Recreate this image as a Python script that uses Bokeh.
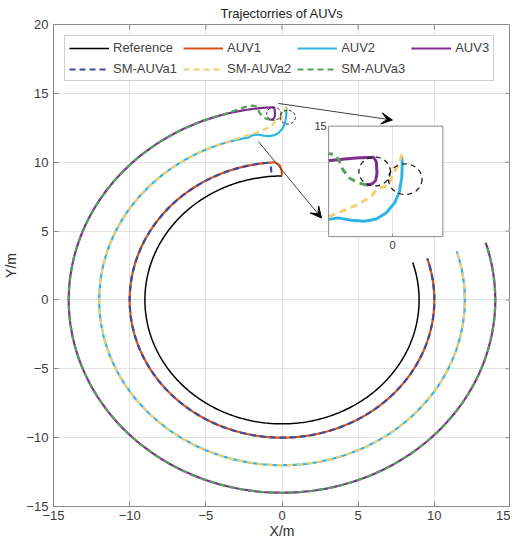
import numpy as np
from bokeh.plotting import figure
from bokeh.models import Range1d, Legend, LegendItem, Arrow, VeeHead, FixedTicker
from bokeh.core.properties import value
from bokeh.embed import file_html
from bokeh.resources import INLINE

FONT = "Liberation Sans"

# ---------------- data ----------------
x_ticks = [-15, -10, -5, 0, 5, 10, 15]
y_ticks = [-15, -10, -5, 0, 5, 10, 15, 20]
x_lim = [-15, 15]
y_lim = [-15, 20]

ref_radius = 9.0
ref_arc_deg = [90.0, 377.6]

# AUV actual trajectories: start transients, then circular arc
auv_radius = [10.0, 12.0, 14.0]
auv_arc_start_deg = [92.6, 100.5, 92.3]
auv_arc_end_deg = [377.5, 377.1, 377.3]
auv1_x = [0.00, -0.03, -0.15, -0.45]
auv1_y = [9.05, 9.40, 9.78, 9.97]
auv2_x = [0.28, 0.29, 0.28, 0.21, 0.06, -0.19, -0.48, -0.83, -1.22, -1.62, -1.96]
auv2_y = [14.00, 13.79, 13.36, 12.87, 12.49, 12.17, 11.97, 11.90, 11.93, 12.01, 11.95]
auv3_x = [-0.78, -0.60, -0.50, -0.46, -0.48, -0.55]
auv3_y = [13.08, 13.12, 13.23, 13.46, 13.84, 13.96]

# SM-AUVa (dashed) trajectories
sm_arc_start_deg = [95.5, 107.0, 106.0]
sm_arc_end_deg = [377.5, 377.1, 377.3]
sm1_x = [-0.70, -0.72, -0.95]
sm1_y = [9.25, 9.60, 9.92]
sm2_x = [0.29, 0.21, 0.09, -0.04, -0.14, -0.43, -0.63, -1.03, -1.52, -1.93, -2.60]
sm2_y = [14.08, 13.84, 13.57, 13.27, 13.05, 12.98, 12.71, 12.44, 12.22, 12.04, 11.86]
sm3_x = [-0.78, -1.03, -1.27, -1.47, -1.60, -1.72, -1.93, -2.40]
sm3_y = [13.08, 13.16, 13.30, 13.57, 13.90, 14.07, 14.11, 14.02]

# dashed safety circles near the start
circ_x = [-0.53, 0.38]
circ_y = [13.52, 13.27]
circ_r = [0.47, 0.50]

# inset view window (data)
inset_xlim = [-1.9, 1.5]
inset_ylim = [11.4, 15.0]

# arrows (data coords of main axes)
arrow_x_start = [-0.24, -1.54]
arrow_y_start = [14.27, 11.49]
arrow_x_end = [7.25, 2.59]
arrow_y_end = [13.06, 5.95]

names = ["Reference", "AUV1", "AUV2", "AUV3", "SM-AUVa1", "SM-AUVa2", "SM-AUVa3"]
colors = ["#000000", "#D95319", "#2FB5E5", "#7E2F8E", "#3C4BA0", "#F2D06E", "#55A05A"]

# ---------------- helpers ----------------
def arc(r, a0, a1, n=400):
    t = np.radians(np.linspace(a0, a1, n))
    return r * np.cos(t), r * np.sin(t)

def path(wx, wy, r, a0, a1):
    ax, ay = arc(r, a0, a1)
    return np.concatenate([wx, ax]), np.concatenate([wy, ay])

def clip_seg(x0, y0, x1, y1, xmin, xmax, ymin, ymax):
    dx, dy = x1 - x0, y1 - y0
    p_ = [-dx, dx, -dy, dy]
    q_ = [x0 - xmin, xmax - x0, y0 - ymin, ymax - y0]
    u0, u1 = 0.0, 1.0
    for pi, qi in zip(p_, q_):
        if pi == 0:
            if qi < 0:
                return None
        else:
            t = qi / pi
            if pi < 0:
                u0 = max(u0, t)
            else:
                u1 = min(u1, t)
    if u0 > u1:
        return None
    return (x0 + u0 * dx, y0 + u0 * dy, x0 + u1 * dx, y0 + u1 * dy)

def clip_poly(xs, ys, box):
    pieces_x, pieces_y = [], []
    cx, cy = [], []
    for i in range(len(xs) - 1):
        s = clip_seg(xs[i], ys[i], xs[i + 1], ys[i + 1], *box)
        if s is None:
            if cx:
                pieces_x.append(cx); pieces_y.append(cy); cx, cy = [], []
            continue
        if cx and abs(cx[-1] - s[0]) < 1e-12 and abs(cy[-1] - s[1]) < 1e-12:
            cx.append(s[2]); cy.append(s[3])
        else:
            if cx:
                pieces_x.append(cx); pieces_y.append(cy)
            cx, cy = [s[0], s[2]], [s[1], s[3]]
    if cx:
        pieces_x.append(cx); pieces_y.append(cy)
    return pieces_x, pieces_y

paths = [arc(ref_radius, *ref_arc_deg)]
for wx, wy, i in [(auv1_x, auv1_y, 0), (auv2_x, auv2_y, 1), (auv3_x, auv3_y, 2)]:
    paths.append(path(wx, wy, auv_radius[i], auv_arc_start_deg[i], auv_arc_end_deg[i]))
for wx, wy, i in [(sm1_x, sm1_y, 0), (sm2_x, sm2_y, 1), (sm3_x, sm3_y, 2)]:
    paths.append(path(wx, wy, auv_radius[i], sm_arc_start_deg[i], sm_arc_end_deg[i]))

# ---------------- figure ----------------
p = figure(width=510, height=541, x_range=Range1d(*x_lim), y_range=Range1d(*y_lim),
           output_backend="svg", toolbar_location=None,
           min_border_left=44, min_border_right=0, min_border_bottom=0, min_border_top=16)
p.title.text = "Trajectorries of AUVs"
p.title.align = "center"
p.title.text_font = FONT
p.title.text_font_size = "13px"
p.title.text_font_style = "normal"
p.title.text_color = "#222222"
p.title.standoff = 7

p.outline_line_color = "#8a8a8a"
p.xaxis.ticker = FixedTicker(ticks=x_ticks)
p.yaxis.ticker = FixedTicker(ticks=y_ticks)
p.xaxis.axis_label = "X/m"
p.yaxis.axis_label = "Y/m"
p.xgrid.ticker = FixedTicker(ticks=x_ticks)
p.ygrid.ticker = FixedTicker(ticks=y_ticks)
p.grid.grid_line_color = "#e3e3e3"

for ax in p.axis:
    ax.major_tick_in = 5
    ax.major_tick_out = 0
    ax.minor_tick_line_color = None
    ax.axis_line_color = "#8a8a8a"
    ax.major_tick_line_color = "#8a8a8a"
    ax.major_label_text_font = FONT
    ax.axis_label_text_font = FONT
    ax.axis_label_text_font_style = "normal"
    ax.axis_label_text_font_size = "14px"
    ax.axis_label_text_color = "#2a2a2a"
    ax.major_label_text_color = "#3a3a3a"
    ax.major_label_text_font_size = "13px"
p.xaxis.major_label_standoff = 4
p.xaxis.axis_label_standoff = 0
p.yaxis.major_label_standoff = 5
p.yaxis.axis_label_standoff = 4

# box ticks on top and right edges
p.ray(x=x_ticks, y=[y_lim[1]] * len(x_ticks), length=5, length_units="screen",
      angle=-90, angle_units="deg", line_color="#8a8a8a", line_width=1)
p.ray(x=[x_lim[1]] * len(y_ticks), y=y_ticks, length=5, length_units="screen",
      angle=180, angle_units="deg", line_color="#8a8a8a", line_width=1)

renderers = []
for k, (xs, ys) in enumerate(paths):
    dashed = k >= 4
    lw = 1.5 if k == 0 else 2.2
    r = p.line(xs, ys, line_color=colors[k], line_width=lw,
               line_dash="6 4" if dashed else "solid")
    renderers.append(r)

p.ellipse(x=circ_x, y=circ_y, width=[2 * r for r in circ_r], height=[2 * r for r in circ_r],
          fill_alpha=0, line_color="#222222", line_width=1, line_dash="3 2")

# ---------------- inset via extra ranges ----------------
inset_main_x = [3.06, 10.56]   # placement of inset box on the main axes
inset_main_y = [4.60, 12.62]
sx = (inset_xlim[1] - inset_xlim[0]) / (inset_main_x[1] - inset_main_x[0])
sy = (inset_ylim[1] - inset_ylim[0]) / (inset_main_y[1] - inset_main_y[0])
ix0 = inset_xlim[0] - (inset_main_x[0] - x_lim[0]) * sx
ix1 = inset_xlim[1] + (x_lim[1] - inset_main_x[1]) * sx
iy0 = inset_ylim[0] - (inset_main_y[0] - y_lim[0]) * sy
iy1 = inset_ylim[1] + (y_lim[1] - inset_main_y[1]) * sy
p.extra_x_ranges = {"ix": Range1d(ix0, ix1)}
p.extra_y_ranges = {"iy": Range1d(iy0, iy1)}
kw = dict(x_range_name="ix", y_range_name="iy")

p.quad(left=[inset_xlim[0]], right=[inset_xlim[1]], bottom=[inset_ylim[0]], top=[inset_ylim[1]],
       fill_color="white", line_color=None, **kw)
p.segment(x0=[0], y0=[inset_ylim[0]], x1=[0], y1=[inset_ylim[1]], line_color="#e3e3e3", **kw)

box = (inset_xlim[0], inset_xlim[1], inset_ylim[0], inset_ylim[1])
for k in [1, 2, 3, 4, 5, 6]:
    xs, ys = paths[k]
    px, py = clip_poly(list(xs), list(ys), box)
    if not px:
        continue
    dashed = k >= 4
    p.multi_line(xs=px, ys=py, line_color=colors[k], line_width=3,
                 line_dash="7 5" if dashed else "solid", **kw)

p.ellipse(x=circ_x, y=circ_y, width=[2 * r for r in circ_r], height=[2 * r for r in circ_r],
          fill_alpha=0, line_color="#222222", line_width=1.3, line_dash="5 4", **kw)
p.quad(left=[inset_xlim[0]], right=[inset_xlim[1]], bottom=[inset_ylim[0]], top=[inset_ylim[1]],
       fill_alpha=0, line_color="#8a8a8a", line_width=1, **kw)
p.ray(x=[0], y=[inset_ylim[0]], length=3, length_units="screen", angle=90, angle_units="deg",
      line_color="#8a8a8a", **kw)
p.text(x=[inset_xlim[0]], y=[inset_ylim[1]], text=["15"], text_align="right", text_baseline="middle",
       x_offset=-2, text_font=value(FONT), text_font_size="11px", text_color="#3a3a3a", **kw)
p.text(x=[0], y=[inset_ylim[0]], text=["0"], text_align="center", text_baseline="top",
       y_offset=4, text_font=value(FONT), text_font_size="11px", text_color="#3a3a3a", **kw)

for i in range(2):
    p.add_layout(Arrow(end=VeeHead(size=11, fill_color="black", line_color="black"),
                       x_start=arrow_x_start[i], y_start=arrow_y_start[i],
                       x_end=arrow_x_end[i], y_end=arrow_y_end[i],
                       line_color="#404040", line_width=1))

# ---------------- legend (column-major fill: 2 rows x 4 cols) ----------------
order = [0, 4, 1, 5, 2, 6, 3]
legend = Legend(items=[LegendItem(label=names[i], renderers=[renderers[i]]) for i in order],
                nrows=2, location="top_left", margin=11, padding=4, spacing=6,
                glyph_width=40, glyph_height=12, label_height=12, label_standoff=4,
                label_text_font=FONT, label_text_font_size="13px",
                border_line_color="#a0a0a0", background_fill_alpha=1.0)
p.add_layout(legend)

open("out.html", "w").write(file_html(p, INLINE))
